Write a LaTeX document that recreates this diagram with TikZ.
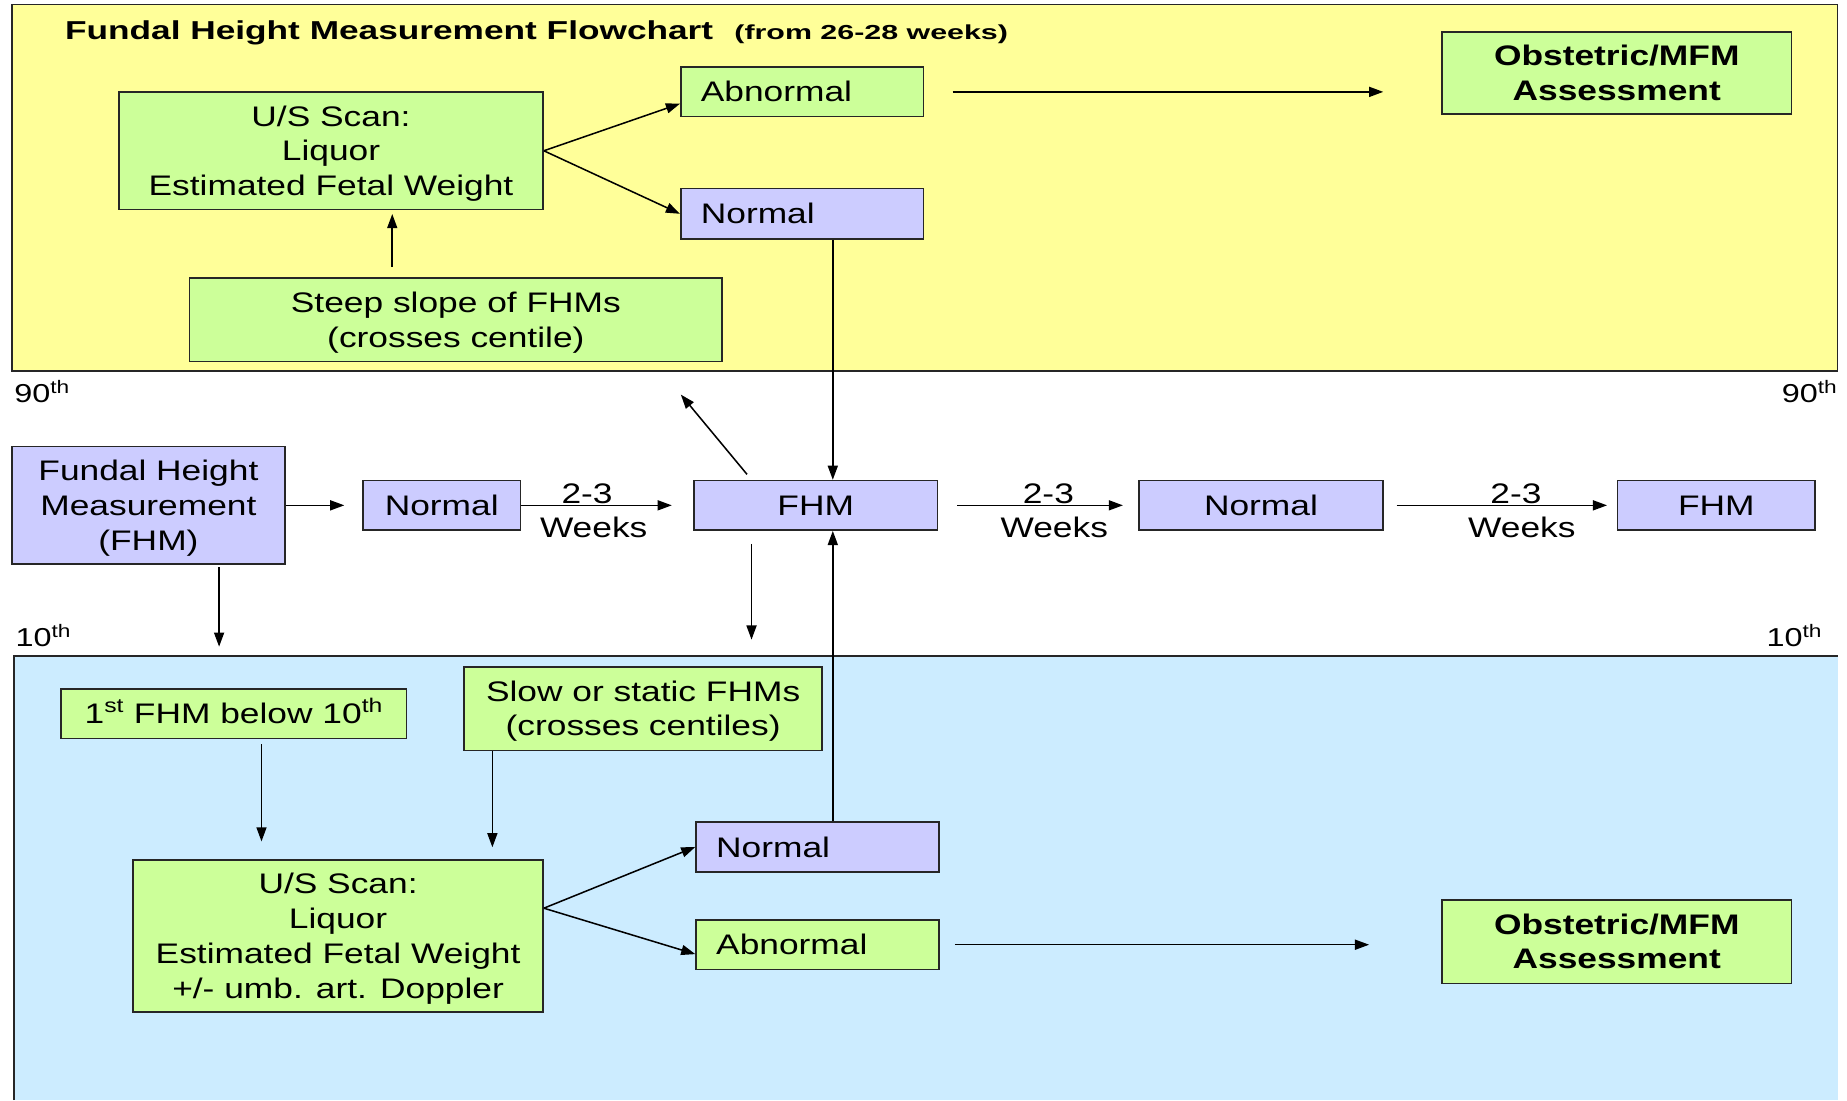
\documentclass[tikz,border=0pt]{standalone}
\usepackage{fontspec}
\setmainfont{Liberation Sans}[FakeStretch=1.25]
\newfontfamily\titlefam{Liberation Sans}[FakeStretch=1.36]
\newfontfamily\subfam{Liberation Sans}[FakeStretch=1.5]
\usetikzlibrary{arrows.meta,calc}
\definecolor{ylw}{HTML}{FFFF99}
\definecolor{grn}{HTML}{CCFF99}
\definecolor{lav}{HTML}{CCCCFF}
\definecolor{sky}{HTML}{CCECFF}
\definecolor{edgec}{HTML}{262626}
\newcommand\bodyfont{\fontsize{24}{29.5}\selectfont}
\newcommand\obsfont{\fontsize{24}{29}\selectfont\bfseries}
\newcommand\pctfont{\fontsize{22}{26}\selectfont}
\newcommand\topstrutx{\rule{0pt}{22.5pt}}
\newcommand\botstrutx{\rule[-5.5pt]{0pt}{5.5pt}}
\tikzset{
  box/.style={draw=edgec, line width=1.4pt, inner sep=0pt, font=\bodyfont, align=center},
  gbox/.style={box, fill=grn},
  lbox/.style={box, fill=lav},
  sz/.style 2 args={minimum width=#1pt, minimum height=#2pt},
  lefttxt/.style={align=left, text width=172pt, inner xsep=17pt},
  obsbox/.style={gbox, font=\obsfont},
  arr/.style={-{Triangle[length=12pt,width=8.5pt]}, line width=1.3pt, black},
  lbl/.style={inner sep=0pt, font=\bodyfont, anchor=base},
  pct/.style={inner sep=0pt, font=\pctfont},
}
\begin{document}
\begin{tikzpicture}[x=1pt,y=-1pt]
\useasboundingbox (0,0) rectangle (1568,934);
\fill[white] (0,0) rectangle (1568,934);
% zones
\draw[fill=ylw, draw=edgec, line width=1.3pt] (10,4) rectangle (1560,315);
\fill[sky] (12,557) rectangle (1560,934);
\draw[edgec, line width=1.3pt] (12,934) -- (12,557) -- (1560,557);

% title
\node[anchor=base west, inner sep=0pt] (title) at (55,33.5)
  {\titlefam\bfseries\fontsize{22}{26}\selectfont Fundal Height Measurement Flowchart\hspace{18pt}{\subfam\bfseries\fontsize{17.2}{20}\selectfont (from 26-28 weeks)}};

% centile labels
\node[pct, anchor=base west] (p90l) at (12,341.5) {90\textsuperscript{th}};
\node[pct, anchor=base east] (p90r) at (1560,341.5) {90\textsuperscript{th}};
\node[pct, anchor=base west] (p10l) at (13,549) {10\textsuperscript{th}};
\node[pct, anchor=base east] (p10r) at (1547,549) {10\textsuperscript{th}};

% upper zone
\node[gbox, sz={360}{100}] (US1) at (281,128) {\topstrutx U/S Scan:\\Liquor\\Estimated Fetal Weight\botstrutx};
\node[gbox, sz={206}{42}, lefttxt] (Abn1) at (681,78) {Abnormal};
\node[lbox, sz={206}{43}, lefttxt] (Norm1) at (681,181.5) {Normal};
\node[obsbox, sz={297}{70}] (Obs1) at (1372.5,62) {\topstrutx Obstetric/MFM\\Assessment\botstrutx};
\node[gbox, sz={452}{71}] (Steep) at (387,271.5) {\topstrutx Steep slope of FHMs\\(crosses centile)\botstrutx};

% middle row
\node[lbox, sz={232}{100}] (FHM0) at (126,429) {\topstrutx Fundal Height\\Measurement\\(FHM)\botstrutx};
\node[lbox, sz={134}{42}] (Norm0) at (375,429) {Normal};
\node[lbox, sz={207}{42}] (FHM1) at (692.5,429) {FHM};
\node[lbox, sz={207}{42}] (Norm2) at (1070.5,429) {Normal};
\node[lbox, sz={168}{42}] (FHM2) at (1457,429) {FHM};

\node[lbl] (w1a) at (498.4,427.3) {2-3};
\node[lbl] (w1b) at (504,456.7) {Weeks};
\node[lbl] (w2a) at (890,427.3) {2-3};
\node[lbl] (w2b) at (895,456.7) {Weeks};
\node[lbl] (w3a) at (1287,427.3) {2-3};
\node[lbl] (w3b) at (1292,456.7) {Weeks};

% lower zone
\node[gbox, sz={293}{42}] (First) at (198.5,606) {1\textsuperscript{st} FHM below 10\textsuperscript{th}\botstrutx};
\node[gbox, sz={304}{71}] (Slow) at (546,601.5) {\topstrutx Slow or static FHMs\\(crosses centiles)\botstrutx};
\node[gbox, sz={348}{129}] (US2) at (287,794.5) {\topstrutx U/S Scan:\\Liquor\\Estimated Fetal Weight\\+/- umb. art. Doppler\botstrutx};
\node[lbox, sz={206}{42}, lefttxt] (Norm3) at (694,719) {Normal};
\node[gbox, sz={206}{42}, lefttxt] (Abn3) at (694,802) {Abnormal};
\node[obsbox, sz={297}{71}] (Obs2) at (1372.5,799.5) {\topstrutx Obstetric/MFM\\Assessment\botstrutx};

% helper coordinates
\coordinate (sx) at (333,250);
\coordinate (vx) at (707,300);
\coordinate (dx) at (638,500);
\coordinate (ul) at (578,335);
\coordinate (dd) at (638,543);
\coordinate (d0) at (186,549);
\coordinate (fx) at (222,650);
\coordinate (sx2) at (418,650);

% connectors upper
\draw[arr, shorten <=9pt, shorten >=3pt] (Steep.north -| sx) -- (US1.south -| sx);
\draw[arr] (US1.east) -- ([yshift=-10pt]Abn1.west);
\draw[arr] (US1.east) -- (Norm1.west);
\draw[arr, shorten <=24pt, shorten >=49pt] (Abn1.east) -- (Abn1.east -| Obs1.west);
\draw[arr] (Norm1.south -| vx) -- (FHM1.north -| vx);

% connectors middle
\draw[arr, shorten >=15pt] (FHM0.east) -- (Norm0.west);
\draw[arr, shorten >=18pt] (Norm0.east) -- (FHM1.west);
\draw[arr, shorten <=16pt, shorten >=13pt] (FHM1.east) -- (Norm2.west);
\draw[arr, shorten <=11pt, shorten >=8pt] (Norm2.east) -- (FHM2.west);
\draw[arr, shorten <=2pt] (FHM0.south -| d0) -- (d0);
\draw[arr, shorten <=6pt] (FHM1.north -| dx) -- (ul);
\draw[arr, shorten <=11pt] (FHM1.south -| dd) -- (dd);

% connectors lower
\draw[arr] (Norm3.north -| vx) -- (FHM1.south -| vx);
\draw[arr, shorten <=4pt, shorten >=15pt] (First.south -| fx) -- (US2.north -| fx);
\draw[arr, shorten >=10pt] (Slow.south -| sx2) -- (US2.north -| sx2);
\draw[arr] ([yshift=23.5pt]US2.east) -- (Norm3.west);
\draw[arr] ([yshift=23.5pt]US2.east) -- ([yshift=-8pt]Abn3.west);
\draw[arr, shorten <=13pt, shorten >=61pt] (Abn3.east) -- (Abn3.east -| Obs2.west);
\end{tikzpicture}
\end{document}
